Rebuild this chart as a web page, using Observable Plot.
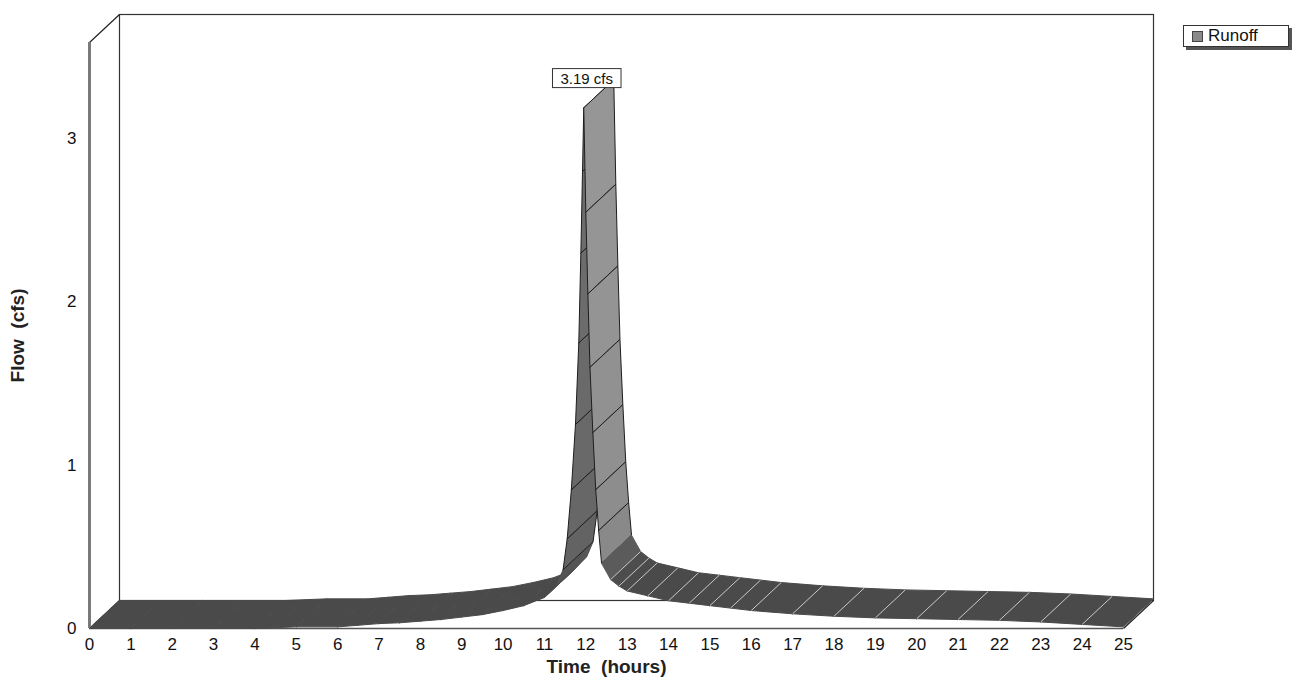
<!DOCTYPE html>
<html><head><meta charset="utf-8">
<script src="https://cdn.jsdelivr.net/npm/d3@7"></script>
<script src="https://cdn.jsdelivr.net/npm/@observablehq/plot@0.6"></script>
<style>
body{margin:0;background:#fff;font-family:"Liberation Sans",Arial,sans-serif;}
#wrap{position:relative;width:1297px;height:677px;overflow:hidden;}
#legend{position:absolute;z-index:5;left:1183px;top:25px;width:104px;height:20px;border:1px solid #333;background:#fff;box-shadow:3px 3px 0 #555;font-size:17px;line-height:20px;color:#111;}
#legend .sw{position:absolute;left:8px;top:5px;width:9px;height:9px;background:#8a8a8a;border:1px solid #444;}
#legend .lb{position:absolute;left:24px;top:0;}
</style></head><body>
<div id="wrap"><div id="legend"><span class="sw"></span><span class="lb"></span></div></div>
<script>
// ---- data ----
const hours = [0, 1, 2, 3, 4, 4.5, 5, 6, 6.5, 7, 7.5, 8, 8.5, 9, 9.5, 10, 10.5, 11, 11.3, 11.45,
  11.55, 11.65, 11.75, 11.83, 11.88, 11.92, 11.95,
  12.0, 12.05, 12.1, 12.17, 12.24, 12.31, 12.38,
  12.6, 12.8, 13, 13.5, 14, 14.5, 15, 15.5, 16, 17, 18, 19, 20, 21, 22, 23, 24, 25];
const flow = [0.00, 0.00, 0.00, 0.00, 0.00, 0.005, 0.01, 0.01, 0.02, 0.03, 0.035, 0.045, 0.055, 0.07, 0.085, 0.11, 0.14, 0.19, 0.27, 0.36,
  0.55, 0.85, 1.25, 1.75, 2.3, 2.8, 3.19,
  2.55, 2.05, 1.6, 1.2, 0.85, 0.6, 0.40,
  0.30, 0.26, 0.23, 0.20, 0.17, 0.155, 0.14, 0.125, 0.11, 0.09, 0.075, 0.065, 0.06, 0.055, 0.05, 0.04, 0.025, 0.01];
const xTicks = [0,1,2,3,4,5,6,7,8,9,10,11,12,13,14,15,16,17,18,19,20,21,22,23,24,25];
const yTicks = [0, 1, 2, 3];
const peakLabel = "3.19 cfs";
const seriesName = "Runoff";
const xTitle = "Time  (hours)";
const yTitle = "Flow  (cfs)";

// ---- layout ----
const W = 1297, H = 677;
const mL = 89, mR = W - 1123, mT = 42, mB = H - 628;
const xMax = 25, yMax = 3.59;
const depthX = 30, depthY = 28; // 3-D depth offset in pixels
const kx = (W - mL - mR) / xMax, ky = (H - mT - mB) / yMax;
const ox = depthX / kx, oy = depthY / ky;

const pts = hours.map((t, i) => ({t, v: flow[i]}));
const polys = [];
for (let i = 0; i < pts.length - 1; i++) {
  const a = pts[i], b = pts[i + 1];
  const sx = (b.t - a.t) * kx, sy = (b.v - a.v) * ky;
  const ang = Math.pow(Math.atan2(Math.abs(sy), Math.abs(sx)) / (Math.PI / 2), 4);
  const fill = sy > 0 ? d3.interpolateRgb("#4a4a4a", "#6e6e6e")(ang) : d3.interpolateRgb("#4a4a4a", "#9a9a9a")(ang);
  const stroke = ang > 0.35 ? "#1e1e1e" : fill;
  [[a.t, a.v], [b.t, b.v], [b.t + ox, b.v + oy], [a.t + ox, a.v + oy], [a.t, a.v]]
    .forEach(([x, y]) => polys.push({seg: i, x, y, fill, stroke}));
}
const tail = pts.filter(d => d.t > 12.5 && d.t < 24.5);
const peak = pts.reduce((m, d) => d.v > m.v ? d : m, pts[0]);

const chart = Plot.plot({
  width: W, height: H,
  marginLeft: mL, marginRight: mR, marginTop: mT, marginBottom: mB,
  style: {fontSize: "17px", fontFamily: "'Liberation Sans', Arial, sans-serif", color: "#111", background: "#fff"},
  x: {domain: [0, xMax], ticks: xTicks, tickSize: 0, tickPadding: 9, tickFormat: d => String(d),
      label: xTitle, labelAnchor: "center", labelOffset: 44, labelArrow: "none"},
  y: {domain: [0, yMax], ticks: yTicks, tickSize: 0, tickPadding: 13, tickFormat: d => String(d),
      label: yTitle, labelAnchor: "center", labelOffset: 79, labelArrow: "none"},
  color: {type: "identity"},
  marks: [
    // back wall (offset frame)
    Plot.frame({dx: depthX, dy: -depthY, stroke: "#333", strokeWidth: 1.2}),
    // front floor line & left front edge
    Plot.ruleY([0], {stroke: "#555", strokeWidth: 1.5}),
    Plot.link([{x1: 0, y1: yMax, x2: ox, y2: yMax + oy}, {x1: 0, y1: 0, x2: ox, y2: oy}, {x1: xMax, y1: 0, x2: xMax + ox, y2: oy}],
      {x1: "x1", y1: "y1", x2: "x2", y2: "y2", stroke: "#222", strokeWidth: 1.2}),
    Plot.ruleX([0], {stroke: "#7a7a7a", strokeWidth: 3}),
    // ribbon
    Plot.line(polys, {x: "x", y: "y", z: "seg", fill: "fill", stroke: "stroke", strokeWidth: 1, strokeLinejoin: "round"}),
    Plot.link(tail, {x1: "t", y1: "v", x2: d => d.t + ox, y2: d => d.v + oy, stroke: "#c8c8c8", strokeWidth: 1}),
    // peak label
    Plot.text([peak], {x: "t", y: "v", text: () => peakLabel, dy: -29, dx: 3, fontSize: 15, fill: "#111"})
  ]
});
chart.style.position = "absolute"; chart.style.left = "0"; chart.style.top = "0"; chart.style.zIndex = "1";
document.getElementById("wrap").appendChild(chart);
document.querySelector("#legend .lb").textContent = seriesName;

// bold, whitespace-preserving axis titles (without arrows)
d3.select(chart).selectAll("text").each(function() {
  const s = this.textContent;
  if (s.includes("Time") || s.includes("Flow")) {
    this.textContent = s.replace(/\s*[→↑←↓]\s*/g, "").replace(/^\s+|\s+$/g, "");
    d3.select(this).style("font-weight", "bold").style("font-size", "19px").style("white-space", "pre")
      .attr("xml:space", "preserve").attr("fill", "#222");
  }
});
// box behind peak label
d3.select(chart).selectAll("text").filter(function() { return this.textContent === peakLabel; }).each(function() {
  const b = this.getBBox();
  const g = this.parentNode;
  const r = document.createElementNS("http://www.w3.org/2000/svg", "rect");
  r.setAttribute("x", b.x - 8); r.setAttribute("y", b.y - 1);
  r.setAttribute("width", b.width + 16); r.setAttribute("height", b.height + 2);
  r.setAttribute("fill", "#fff"); r.setAttribute("stroke", "#333"); r.setAttribute("stroke-width", "1");
  const tr = this.getAttribute("transform"); if (tr) r.setAttribute("transform", tr);
  g.insertBefore(r, this);
});
</script>
</body></html>
